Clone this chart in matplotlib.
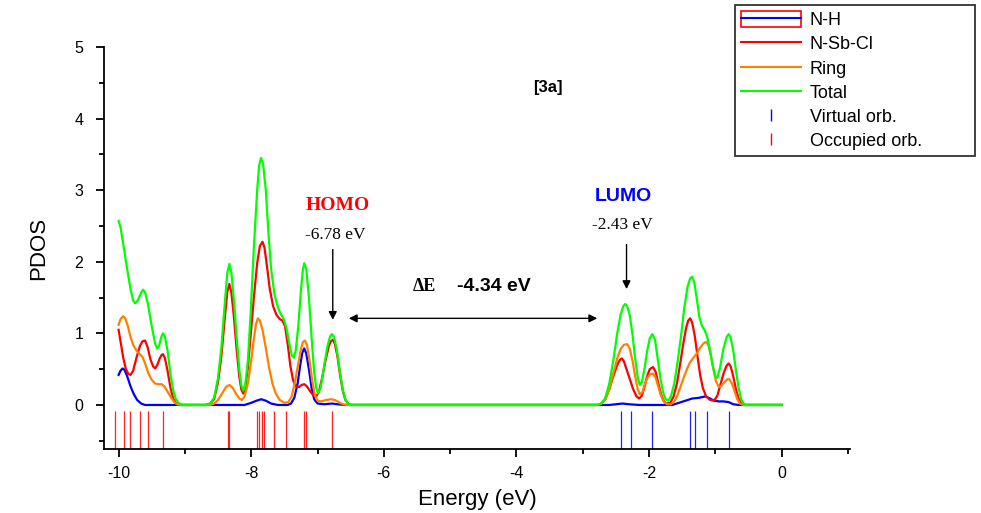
import numpy as np
import matplotlib.pyplot as plt
from matplotlib.lines import Line2D
from matplotlib.patches import Patch
from matplotlib.legend_handler import HandlerTuple

plt.rcParams['font.family'] = ['Liberation Sans', 'DejaVu Sans']
plt.rcParams['axes.unicode_minus'] = False

# PDOS curves: (energy eV, PDOS)
total = [(-10.00, 2.57), (-9.97, 2.48), (-9.93, 2.25), (-9.88, 1.95), (-9.82, 1.62), (-9.78, 1.46),
         (-9.75, 1.42), (-9.71, 1.46), (-9.66, 1.57), (-9.63, 1.61), (-9.60, 1.57), (-9.56, 1.42),
         (-9.50, 1.10), (-9.45, 0.86), (-9.42, 0.79), (-9.39, 0.82), (-9.36, 0.94), (-9.33, 1.00),
         (-9.30, 0.95), (-9.26, 0.75), (-9.22, 0.45), (-9.18, 0.22), (-9.14, 0.09), (-9.10, 0.03),
         (-9.04, 0.00), (-8.68, 0.00), (-8.62, 0.02), (-8.56, 0.10), (-8.50, 0.38), (-8.45, 0.80),
         (-8.40, 1.40), (-8.36, 1.85), (-8.33, 1.97), (-8.30, 1.86), (-8.26, 1.45), (-8.22, 0.95),
         (-8.18, 0.50), (-8.15, 0.28), (-8.12, 0.20), (-8.09, 0.28), (-8.05, 0.62), (-8.01, 1.25),
         (-7.96, 2.20), (-7.91, 3.00), (-7.88, 3.35), (-7.85, 3.45), (-7.82, 3.36), (-7.78, 3.00),
         (-7.74, 2.40), (-7.70, 1.90), (-7.65, 1.55), (-7.60, 1.37), (-7.56, 1.28), (-7.51, 1.20),
         (-7.47, 1.08), (-7.43, 0.88), (-7.39, 0.70), (-7.36, 0.66), (-7.33, 0.75), (-7.29, 1.10),
         (-7.25, 1.60), (-7.22, 1.90), (-7.20, 1.98), (-7.17, 1.90), (-7.13, 1.50), (-7.09, 0.95),
         (-7.05, 0.45), (-7.02, 0.24), (-6.99, 0.16), (-6.95, 0.25), (-6.90, 0.55), (-6.85, 0.82),
         (-6.81, 0.96), (-6.78, 0.99), (-6.75, 0.95), (-6.71, 0.78), (-6.66, 0.45), (-6.62, 0.22),
         (-6.58, 0.08), (-6.53, 0.01), (-6.48, 0.00), (-2.78, 0.00), (-2.72, 0.02), (-2.66, 0.10),
         (-2.60, 0.30), (-2.54, 0.62), (-2.48, 1.00), (-2.43, 1.26), (-2.39, 1.38), (-2.36, 1.41),
         (-2.33, 1.38), (-2.29, 1.25), (-2.25, 0.98), (-2.21, 0.65), (-2.17, 0.38), (-2.14, 0.28),
         (-2.11, 0.32), (-2.07, 0.50), (-2.03, 0.75), (-1.99, 0.93), (-1.95, 0.99), (-1.91, 0.91),
         (-1.87, 0.65), (-1.83, 0.38), (-1.79, 0.18), (-1.75, 0.08), (-1.71, 0.06), (-1.67, 0.12),
         (-1.62, 0.30), (-1.57, 0.60), (-1.52, 0.95), (-1.47, 1.35), (-1.42, 1.65), (-1.38, 1.77),
         (-1.35, 1.79), (-1.32, 1.72), (-1.28, 1.48), (-1.24, 1.22), (-1.20, 1.10), (-1.16, 1.04),
         (-1.12, 0.94), (-1.08, 0.76), (-1.04, 0.55), (-1.00, 0.40), (-0.97, 0.38), (-0.93, 0.52),
         (-0.88, 0.78), (-0.83, 0.95), (-0.80, 0.99), (-0.77, 0.94), (-0.73, 0.76), (-0.69, 0.48),
         (-0.65, 0.24), (-0.61, 0.08), (-0.57, 0.01), (-0.52, 0.00), (0.00, 0.00)]

nsbcl = [(-10.00, 1.05), (-9.97, 0.88), (-9.93, 0.66), (-9.89, 0.50), (-9.85, 0.43), (-9.82, 0.42),
         (-9.78, 0.48), (-9.73, 0.66), (-9.68, 0.82), (-9.64, 0.89), (-9.60, 0.90), (-9.56, 0.80),
         (-9.52, 0.64), (-9.48, 0.54), (-9.45, 0.51), (-9.42, 0.55), (-9.38, 0.65), (-9.35, 0.70),
         (-9.33, 0.71), (-9.30, 0.65), (-9.26, 0.47), (-9.22, 0.25), (-9.18, 0.10), (-9.14, 0.03),
         (-9.08, 0.00), (-8.68, 0.00), (-8.62, 0.02), (-8.56, 0.08), (-8.50, 0.32), (-8.45, 0.68),
         (-8.40, 1.20), (-8.36, 1.58), (-8.33, 1.69), (-8.30, 1.58), (-8.26, 1.22), (-8.22, 0.78),
         (-8.18, 0.40), (-8.15, 0.22), (-8.12, 0.16), (-8.09, 0.24), (-8.05, 0.52), (-8.01, 0.95),
         (-7.96, 1.50), (-7.91, 1.98), (-7.87, 2.22), (-7.83, 2.28), (-7.80, 2.20), (-7.76, 1.92),
         (-7.72, 1.62), (-7.67, 1.38), (-7.62, 1.26), (-7.57, 1.20), (-7.53, 1.18), (-7.49, 1.10),
         (-7.45, 0.85), (-7.41, 0.55), (-7.37, 0.35), (-7.33, 0.26), (-7.28, 0.25), (-7.24, 0.28),
         (-7.20, 0.29), (-7.16, 0.26), (-7.11, 0.19), (-7.06, 0.13), (-7.02, 0.12), (-6.98, 0.18),
         (-6.93, 0.38), (-6.88, 0.62), (-6.83, 0.82), (-6.80, 0.89), (-6.77, 0.91), (-6.74, 0.86),
         (-6.70, 0.68), (-6.66, 0.42), (-6.62, 0.20), (-6.58, 0.07), (-6.53, 0.01), (-6.48, 0.00),
         (-2.78, 0.00), (-2.72, 0.02), (-2.66, 0.08), (-2.60, 0.22), (-2.54, 0.40), (-2.48, 0.56),
         (-2.44, 0.63), (-2.41, 0.65), (-2.38, 0.61), (-2.34, 0.50), (-2.29, 0.36), (-2.24, 0.22),
         (-2.19, 0.12), (-2.15, 0.09), (-2.11, 0.13), (-2.07, 0.25), (-2.03, 0.40), (-1.99, 0.50),
         (-1.94, 0.53), (-1.90, 0.46), (-1.86, 0.30), (-1.82, 0.15), (-1.78, 0.06), (-1.74, 0.02),
         (-1.68, 0.03), (-1.63, 0.12), (-1.58, 0.30), (-1.53, 0.58), (-1.48, 0.88), (-1.44, 1.08),
         (-1.41, 1.18), (-1.38, 1.21), (-1.35, 1.15), (-1.31, 0.96), (-1.27, 0.68), (-1.23, 0.42),
         (-1.19, 0.24), (-1.14, 0.12), (-1.08, 0.07), (-1.02, 0.06), (-0.97, 0.13), (-0.92, 0.30),
         (-0.87, 0.46), (-0.83, 0.55), (-0.80, 0.58), (-0.77, 0.54), (-0.73, 0.40), (-0.69, 0.22),
         (-0.65, 0.09), (-0.61, 0.02), (-0.57, 0.00), (0.00, 0.00)]

ring = [(-10.00, 1.12), (-9.97, 1.20), (-9.93, 1.24), (-9.90, 1.21), (-9.86, 1.10), (-9.82, 0.95),
        (-9.78, 0.84), (-9.73, 0.76), (-9.68, 0.71), (-9.64, 0.67), (-9.60, 0.58), (-9.55, 0.44),
        (-9.50, 0.35), (-9.45, 0.30), (-9.40, 0.29), (-9.35, 0.29), (-9.31, 0.26), (-9.27, 0.20),
        (-9.22, 0.12), (-9.17, 0.05), (-9.12, 0.01), (-9.06, 0.00), (-8.62, 0.00), (-8.56, 0.02),
        (-8.50, 0.07), (-8.44, 0.16), (-8.38, 0.25), (-8.33, 0.28), (-8.28, 0.24), (-8.23, 0.16),
        (-8.18, 0.09), (-8.14, 0.07), (-8.10, 0.12), (-8.05, 0.30), (-8.00, 0.62), (-7.96, 0.92),
        (-7.93, 1.12), (-7.90, 1.21), (-7.87, 1.18), (-7.83, 1.05), (-7.78, 0.80), (-7.73, 0.52),
        (-7.68, 0.30), (-7.63, 0.16), (-7.57, 0.07), (-7.50, 0.03), (-7.44, 0.04), (-7.39, 0.12),
        (-7.34, 0.32), (-7.29, 0.58), (-7.25, 0.78), (-7.22, 0.88), (-7.19, 0.90), (-7.16, 0.84),
        (-7.12, 0.62), (-7.08, 0.34), (-7.04, 0.14), (-7.00, 0.06), (-6.94, 0.05), (-6.87, 0.07),
        (-6.80, 0.08), (-6.74, 0.07), (-6.68, 0.04), (-6.62, 0.01), (-6.56, 0.00), (-2.78, 0.00),
        (-2.72, 0.02), (-2.66, 0.08), (-2.60, 0.22), (-2.54, 0.44), (-2.48, 0.65), (-2.43, 0.78),
        (-2.38, 0.84), (-2.33, 0.85), (-2.29, 0.78), (-2.25, 0.62), (-2.21, 0.40), (-2.17, 0.22),
        (-2.14, 0.15), (-2.10, 0.18), (-2.06, 0.30), (-2.02, 0.39), (-1.98, 0.43), (-1.94, 0.44),
        (-1.90, 0.38), (-1.86, 0.25), (-1.82, 0.13), (-1.78, 0.05), (-1.73, 0.01), (-1.67, 0.01),
        (-1.62, 0.05), (-1.57, 0.14), (-1.52, 0.27), (-1.47, 0.40), (-1.42, 0.52), (-1.38, 0.60),
        (-1.33, 0.66), (-1.28, 0.72), (-1.23, 0.80), (-1.18, 0.86), (-1.14, 0.88), (-1.11, 0.85),
        (-1.07, 0.70), (-1.03, 0.50), (-0.99, 0.33), (-0.95, 0.25), (-0.91, 0.27), (-0.86, 0.32),
        (-0.82, 0.36), (-0.79, 0.36), (-0.75, 0.30), (-0.71, 0.19), (-0.67, 0.08), (-0.63, 0.02),
        (-0.58, 0.00), (0.00, 0.00)]

nh = [(-10.00, 0.42), (-9.97, 0.48), (-9.94, 0.51), (-9.91, 0.49), (-9.87, 0.40), (-9.82, 0.26),
      (-9.77, 0.15), (-9.72, 0.07), (-9.66, 0.02), (-9.60, 0.00), (-8.10, 0.00), (-8.00, 0.03),
      (-7.92, 0.06), (-7.85, 0.08), (-7.78, 0.06), (-7.70, 0.02), (-7.60, 0.00), (-7.45, 0.00),
      (-7.40, 0.02), (-7.35, 0.10), (-7.30, 0.30), (-7.26, 0.56), (-7.23, 0.73), (-7.20, 0.79),
      (-7.17, 0.72), (-7.13, 0.50), (-7.09, 0.24), (-7.05, 0.08), (-7.00, 0.02), (-6.90, 0.01),
      (-6.78, 0.02), (-6.70, 0.01), (-6.60, 0.00), (-2.60, 0.00), (-2.50, 0.01), (-2.40, 0.02),
      (-2.30, 0.01), (-2.15, 0.00), (-1.65, 0.00), (-1.55, 0.03), (-1.45, 0.06), (-1.35, 0.09),
      (-1.25, 0.10), (-1.15, 0.12), (-1.08, 0.09), (-1.02, 0.06), (-0.95, 0.05), (-0.88, 0.05),
      (-0.80, 0.04), (-0.73, 0.01), (-0.65, 0.00), (0.00, 0.00)]

# orbital energies (sticks)
occupied = [-10.05, -9.92, -9.83, -9.67, -9.56, -9.33, -8.35, -8.33, -7.92, -7.88, -7.84, -7.80,
            -7.65, -7.48, -7.20, -7.18, -6.78]
virtual = [-2.43, -2.28, -1.95, -1.39, -1.30, -1.12, -0.80]

fig = plt.figure(figsize=(9.81, 5.13), dpi=100)
ax = fig.add_axes([104/981, 1-449/513, 746/981, 402/513])

for data, col in [(nh, '#0000ff'), (nsbcl, '#ff0000'), (ring, '#ff8000'), (total, '#00ff00')]:
    e, y = zip(*data)
    ax.plot(e, y, color=col, lw=1.6)

ybot = -0.615
ax.vlines(occupied, ybot, -0.09, color='#ff2020', lw=0.9)
ax.vlines(virtual, ybot, -0.09, color='#2020ff', lw=0.9)

ax.set_xlim(-10.22, 1.03)
ax.set_ylim(ybot, 5.0)
ax.set_xticks([-10, -8, -6, -4, -2, 0])
ax.set_xticks([-9, -7, -5, -3, -1, 1], minor=True)
ax.set_yticks([0, 1, 2, 3, 4, 5])
ax.set_yticks([-0.5, 0.5, 1.5, 2.5, 3.5, 4.5], minor=True)
for s in ['top', 'right']:
    ax.spines[s].set_visible(False)
for s in ['left', 'bottom']:
    ax.spines[s].set_linewidth(1.3)
ax.tick_params(which='major', direction='out', length=6, width=1.3, labelsize=11.5, pad=6)
ax.tick_params(which='minor', direction='out', length=3.5, width=1.3)
ax.tick_params(axis='y', which='major', pad=9)

ax.set_xlabel('Energy (eV)', fontsize=16, labelpad=6)
ax.set_ylabel('PDOS', fontsize=16, labelpad=18)

# annotations
ax.text(-3.53, 4.43, '[3a]', fontsize=12, fontweight='bold', ha='center', va='center')
ax.text(-6.70, 2.79, 'HOMO', color='red', fontsize=14, fontweight='bold',
        family='Liberation Serif', ha='center', va='center')
ax.text(-6.73, 2.37, '-6.78 eV', fontsize=12.5, family='Liberation Serif', ha='center', va='center')
ax.text(-2.39, 2.91, 'LUMO', color='blue', fontsize=14, fontweight='bold', ha='center', va='center')
ax.text(-2.40, 2.51, '-2.43 eV', fontsize=12.5, family='Liberation Serif', ha='center', va='center')
ax.text(-5.39, 1.65, 'ΔE', fontsize=13, fontweight='bold', family='Liberation Serif',
        ha='center', va='center')
ax.text(-4.34, 1.65, '-4.34 eV', fontsize=14, fontweight='bold', ha='center', va='center')

arr = dict(arrowstyle='-|>', color='black', lw=1.0, mutation_scale=12)
ax.annotate('', xy=(-6.77, 1.15), xytext=(-6.77, 2.21), arrowprops=arr)
ax.annotate('', xy=(-2.34, 1.58), xytext=(-2.34, 2.28), arrowprops=arr)
ax.annotate('', xy=(-2.74, 1.21), xytext=(-6.57, 1.21),
            arrowprops=dict(arrowstyle='<|-|>', color='black', lw=1.0, mutation_scale=12))

handles = [
    (Patch(facecolor='white', edgecolor='red', lw=1.2), Line2D([], [], color='#0000ff', lw=1.5)),
    Line2D([], [], color='#ff0000', lw=1.5),
    Line2D([], [], color='#ff8000', lw=1.5),
    Line2D([], [], color='#00ff00', lw=1.5),
    Line2D([], [], color='#0000ff', marker='|', ls='none', markersize=8, mew=1),
    Line2D([], [], color='#ff0000', marker='|', ls='none', markersize=8, mew=1),
]
labels = ['N-H', 'N-Sb-Cl', 'Ring', 'Total', 'Virtual orb.', 'Occupied orb.']
leg = fig.legend(handles, labels, loc='upper left', mode='expand',
                 bbox_to_anchor=(735/981, 1-155/513, 240/981, 150/513),
                 handler_map={tuple: HandlerTuple(ndivide=1, pad=0)},
                 fontsize=13, frameon=True, fancybox=False, edgecolor='black',
                 handlelength=3.3, handleheight=1.0, handletextpad=0.5,
                 labelspacing=0.33, borderpad=0.33, borderaxespad=0)
leg.get_frame().set_linewidth(1.3)

fig.savefig('out.png', dpi=100)
